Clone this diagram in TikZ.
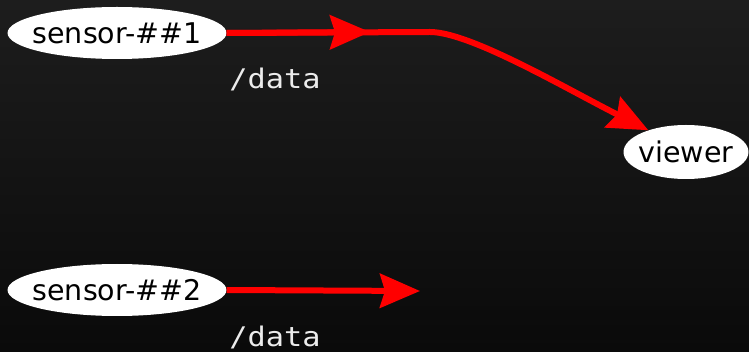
\documentclass[tikz,border=0pt]{standalone}
\usepackage{fontspec}
\setmainfont{DejaVu Sans}
\newfontfamily\topicfont{DejaVu Sans Mono}
\usetikzlibrary{shapes.geometric,arrows.meta}
\definecolor{bgtop}{HTML}{1D1D1D}
\definecolor{bgbottom}{HTML}{0A0A0A}
\definecolor{edgered}{HTML}{FF0000}
\definecolor{labelgray}{HTML}{ECECEC}
\tikzset{
  procnode/.style={ellipse, fill=white, draw=none, inner sep=0pt,
    font=\fontsize{28.5}{32}\selectfont, text=black},
  flow/.style={draw=edgered, line width=6pt},
  flowtip/.style={-{Stealth[length=40pt,width=34pt,inset=5pt]}},
  topiclabel/.style={font=\topicfont\fontsize{27}{32}\selectfont, text=labelgray, xscale=1.12}
}
% centred text that does not widen its ellipse
\newcommand{\proclabel}[1]{\makebox[0pt]{#1}}
\begin{document}
\begin{tikzpicture}[x=1pt,y=-1pt]
  % backdrop
  \shade[top color=bgtop, bottom color=bgbottom] (0,0) rectangle (749,352);
  \useasboundingbox (0,0) rectangle (749,352);

  % processes
  \node[procnode, minimum width=219pt, minimum height=52pt] (s1) at (117,33) {\proclabel{sensor-\#\#1}};
  \node[procnode, minimum width=219pt, minimum height=52pt] (s2) at (117,290) {\proclabel{sensor-\#\#2}};
  \node[procnode, minimum width=125pt, minimum height=54pt] (v) at (686,152) {\proclabel{viewer}};

  % topic points
  \coordinate (t1) at (370,32);
  \coordinate (t2) at (420,291);
  \coordinate (bend) at (430,32);

  % connections
  \draw[flow] (s1.east) -- (bend);
  \draw[flow, flowtip] (s1.east) -- (t1);
  \draw[flow, flowtip] (bend) .. controls (470,32) and (565,88) .. (v.150);
  \draw[flow, flowtip] (s2.east) -- (t2);

  % topic labels
  \node[topiclabel] (l1) at (275,79) {/data};
  \node[topiclabel] (l2) at (275,337) {/data};
\end{tikzpicture}
\end{document}
